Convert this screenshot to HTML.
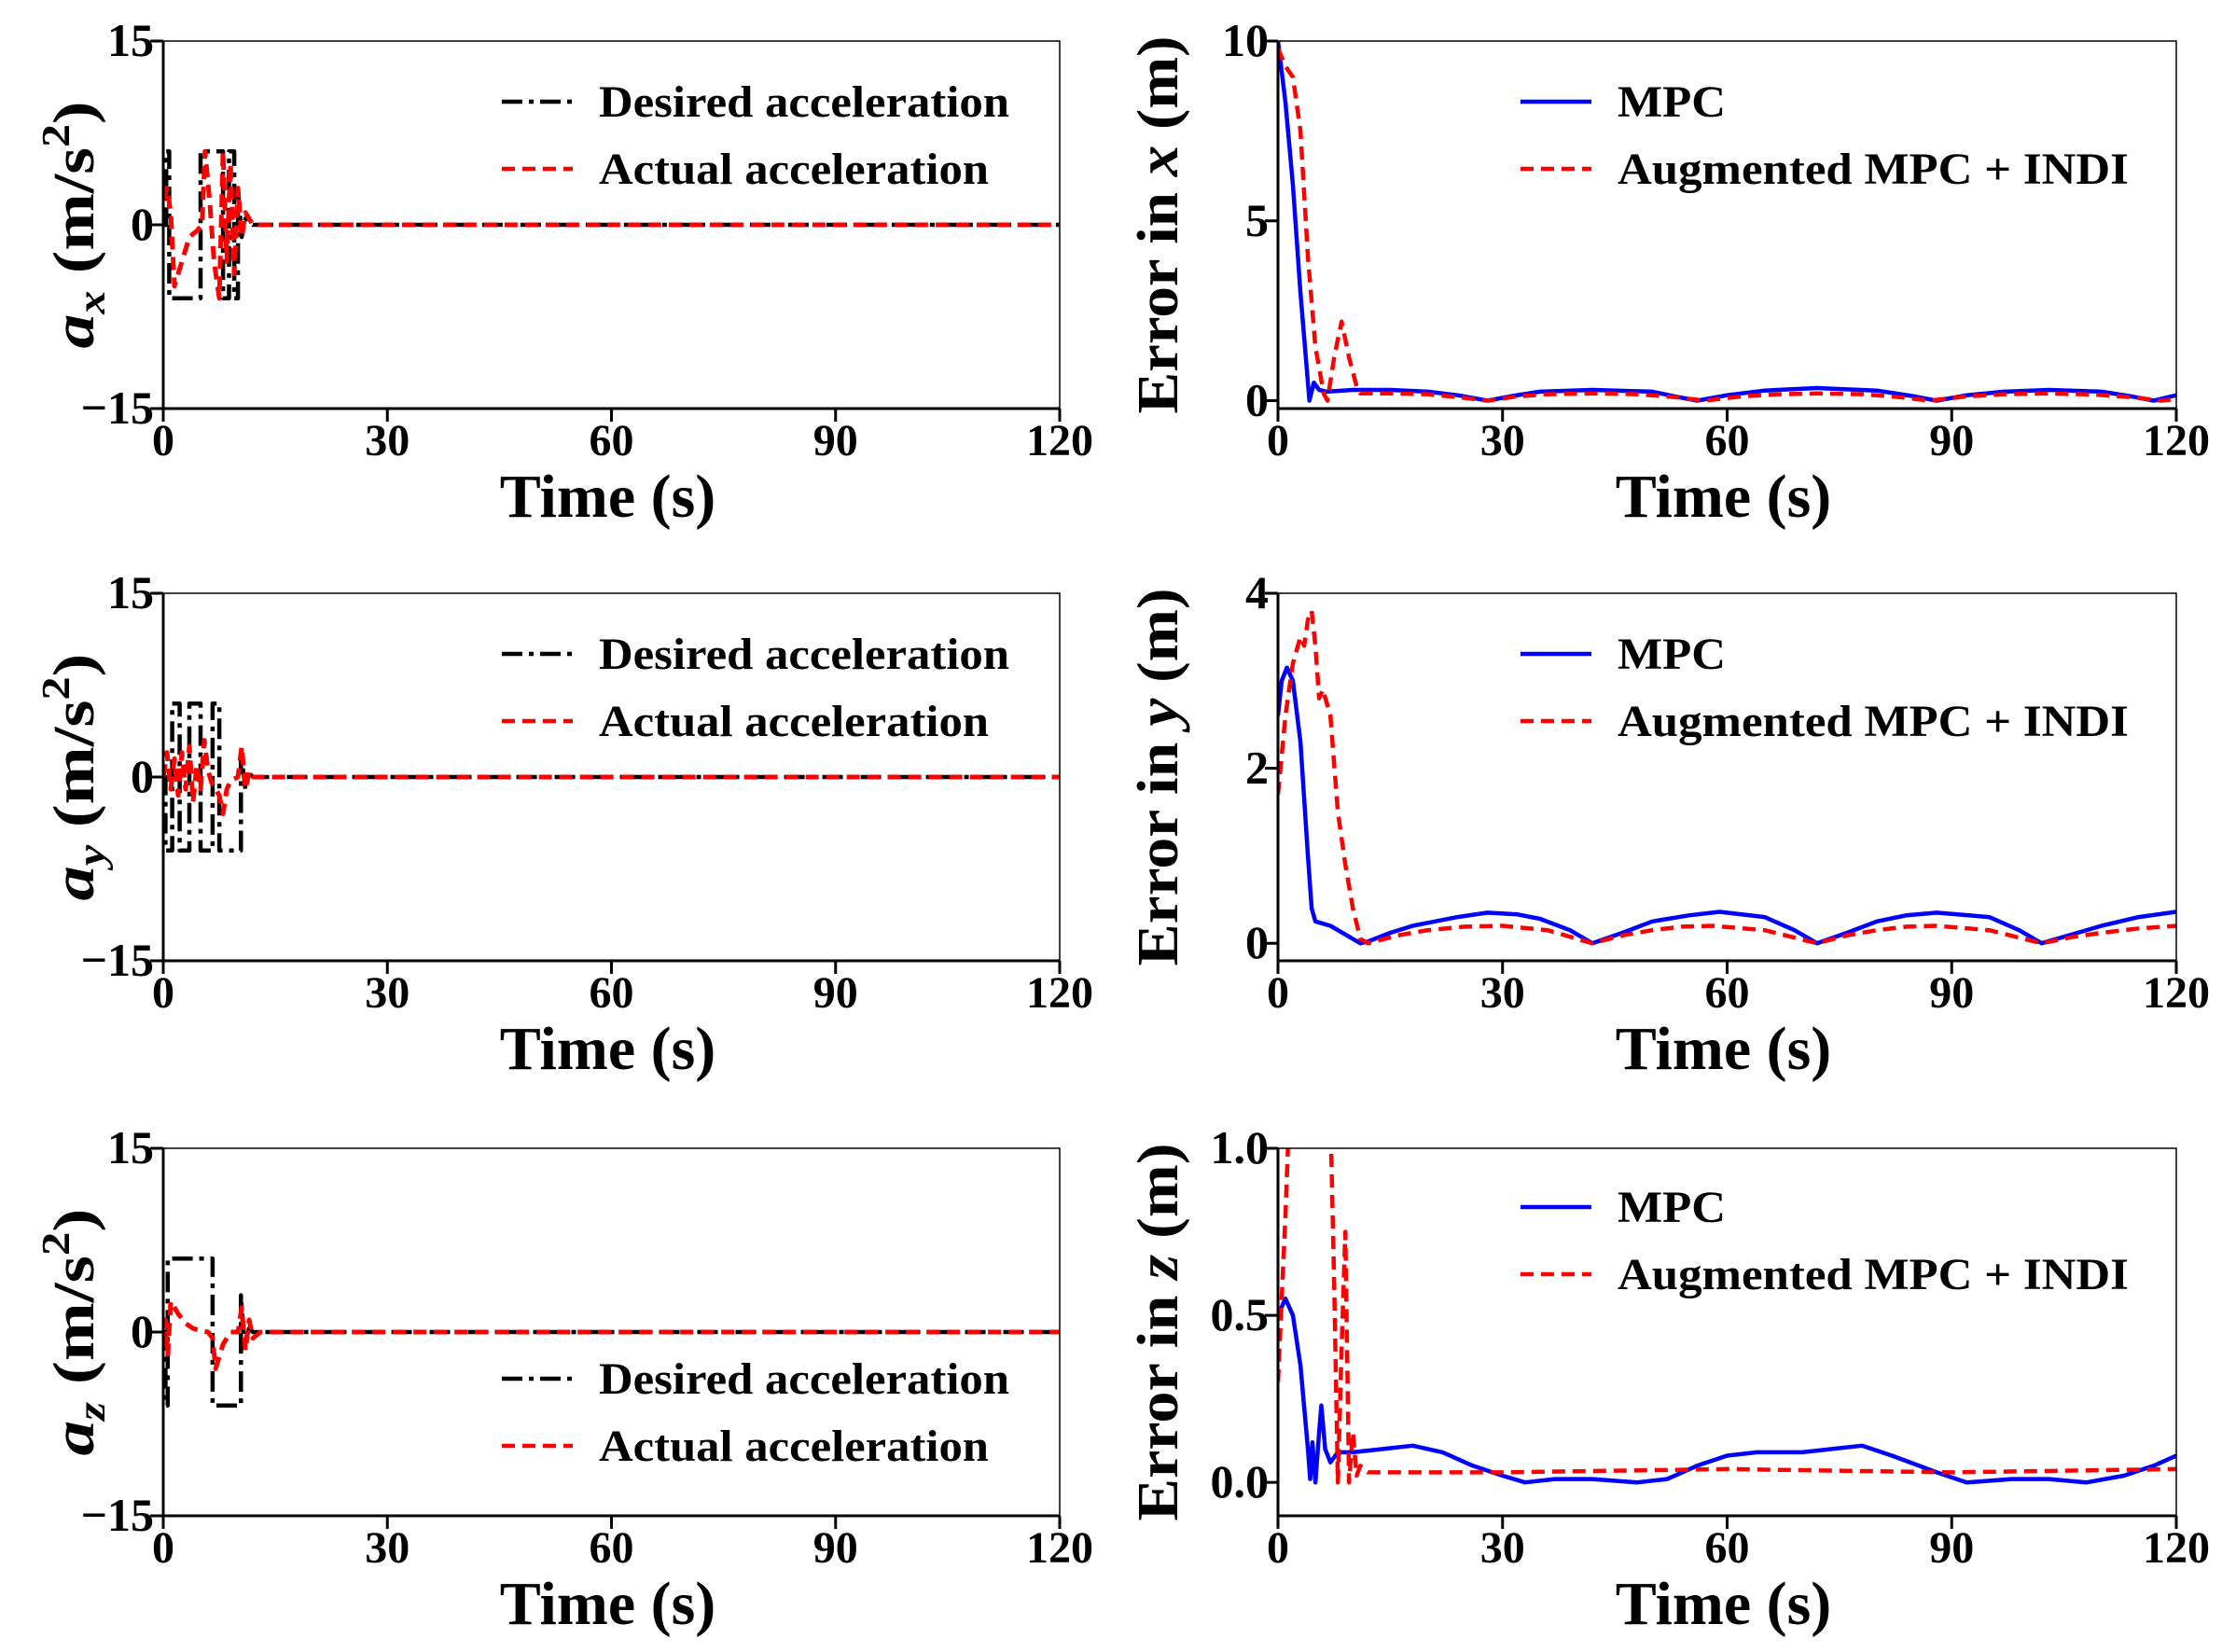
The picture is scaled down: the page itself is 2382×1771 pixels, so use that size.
<!DOCTYPE html>
<html><head><meta charset="utf-8"><style>
html,body{margin:0;padding:0;background:#fff;}
svg{display:block;}
text{font-family:"Liberation Serif",serif;font-weight:bold;fill:#000;}
</style></head><body>
<svg id="fig" width="2382" height="1771" viewBox="0 0 2382 1771" xmlns="http://www.w3.org/2000/svg"></svg>
<script>
// ---- data ----
const xTicks = [0, 30, 60, 90, 120];
const accTicks = [-15, 0, 15];
const exTicks = [0, 5, 10];
const eyTicks = [0, 2, 4];
const ezTicks = [0.0, 0.5, 1.0];
const ezTickLabels = ["0.0", "0.5", "1.0"];

const axDesT = [0,0.4,0.4,0.8,0.8,5,5,8,8,8.8,8.8,9.5,9.5,10,10,10.5,11,12,20,120];
const axDesV = [0,0,6,6,-6,-6,6,6,-6,-6,6,6,-6,-6,3,-1,0.5,0,0,0];
const axActT = [0,0.5,1,1.5,2.5,3.5,4.5,5.2,5.6,6.2,6.8,7.5,8,8.5,9,9.5,10,10.5,11,12,13,120];
const axActV = [2,3,1,-5,-3,-1,-0.5,0,6,2,-3,-6,6,-3,5,-4,3,-1,1,0,0,0];

const ayDesT = [0,0.3,0.3,1.2,1.2,2.2,2.2,3.5,3.5,5,5,6.6,6.6,7.5,7.5,10.4,10.4,11,11.5,12,120];
const ayDesV = [0,0,-6,-6,6,6,-6,-6,6,6,-6,-6,6,6,-6,-6,2,-1,0.3,0,0];
const ayActT = [0,0.5,1,1.5,2,2.5,3,3.5,4,4.5,5,5.5,6,6.5,7,7.5,8,8.5,9,10,10.5,11,11.5,12,13,120];
const ayActV = [0,2,-1,1.5,-1.5,2,-1,2.5,-2,1,-1,3,0.5,-0.5,-1,-1.5,-3,-1,-0.3,0,2.5,-1,0.5,0,0,0];

const azDesT = [0,0.3,0.3,0.6,0.6,6.6,6.6,10.4,10.4,10.8,11.5,12,120];
const azDesV = [0,0,-6,-6,6,6,-6,-6,3,-1,0.3,0,0];
const azActT = [0,0.3,0.6,1,1.5,2,3,4,5,6,6.6,7,7.5,8,8.5,9,10,10.5,11,11.5,12,13,120];
const azActV = [-1,1,-2,2.5,2,1.5,0.7,0.3,0.1,0,-0.5,-3,-2,-1,-0.5,0,0,2,-1.5,1,-0.5,0,0];

const exMpcT = [0,1,2,3,4.2,4.8,5.5,6.5,10,15,20,24,28,31,35,42,50,53,56,60,65,72,80,85,88,92,97,103,110,114,117,120];
const exMpcV = [10,8.3,6,3,0,0.5,0.3,0.25,0.3,0.3,0.25,0.15,0,0.12,0.25,0.3,0.25,0.12,0,0.15,0.28,0.35,0.28,0.12,0,0.15,0.25,0.3,0.25,0.12,0,0.15];
const exAugT = [0,1,2,3,4,5,6.1,6.6,7.5,8.5,9.5,10.5,11,15,20,24,28,32,36,42,48,53,57,62,67,72,78,83,87,92,97,103,109,114,118,120];
const exAugV = [9.8,9.3,9,7.5,4,1.5,0.2,0,1.2,2.2,1.2,0.4,0.2,0.2,0.18,0.1,0,0.12,0.18,0.2,0.18,0.1,0,0.12,0.18,0.2,0.18,0.1,0,0.12,0.18,0.2,0.17,0.1,0,0.05];

const eyMpcT = [0,0.5,1.2,2,3,4,4.5,5,7,11,12,15,18,24,28,32,35,39,42,46,50,55,59,65,69,72,76,80,84,88,95,99,102,106,110,115,120];
const eyMpcV = [2.6,3.0,3.15,3.0,2.3,1.0,0.4,0.25,0.2,0,0.02,0.12,0.2,0.3,0.35,0.33,0.28,0.15,0,0.12,0.25,0.32,0.36,0.3,0.15,0,0.12,0.25,0.32,0.35,0.3,0.15,0,0.1,0.2,0.3,0.36];
const eyAugT = [0,1,2,3,3.5,4,4.5,5,5.5,6,7,8,9,10,11,12,16,20,25,30,36,42,46,50,54,58,65,72,76,80,84,88,95,102,106,110,115,120];
const eyAugV = [1.7,2.6,3.2,3.5,3.4,3.7,3.8,3.4,2.8,2.9,2.6,1.5,0.9,0.4,0.05,0,0.09,0.15,0.19,0.2,0.15,0,0.09,0.15,0.19,0.2,0.15,0,0.09,0.15,0.19,0.2,0.15,0,0.07,0.12,0.17,0.2];

const ezMpcT = [0,1,2,3,4,4.3,4.6,5,5.5,5.8,6.3,7,8,10,14,18,22,26,30,33,37,42,48,52,56,60,64,70,78,82,88,92,98,103,108,113,117,120];
const ezMpcV = [0.5,0.55,0.5,0.35,0.1,0.01,0.12,0,0.15,0.23,0.1,0.06,0.09,0.09,0.1,0.11,0.09,0.05,0.02,0,0.01,0.01,0,0.01,0.05,0.08,0.09,0.09,0.11,0.08,0.03,0,0.01,0.01,0,0.02,0.05,0.08];
const ezAugT = [0,1,1.5,3,5,7,7.5,8,8.5,9,9.5,10,10.5,11,12,30,60,90,120];
const ezAugV = [0.3,0.8,1.1,2,2,1.1,0.6,0,0.4,0.75,0,0.15,0.02,0.05,0.03,0.03,0.04,0.03,0.04];

// ---- drawing ----
const NS = "http://www.w3.org/2000/svg";
const svg = document.getElementById("fig");
function mk(tag, attrs, parent){ const e=document.createElementNS(NS,tag); for(const k in attrs) e.setAttribute(k,attrs[k]); (parent||svg).appendChild(e); return e; }

const cols = [{x0:175,x1:1136},{x0:1370,x1:2333}];
const rows = [44,636,1231];
const PH = 394;

function makeScale(d0,d1,r0,r1){ return v => r0 + (v-d0)/(d1-d0)*(r1-r0); }

let clipId = 0;
function panel(name, col, row, yMin, yMax, yTicks, yTickLabels, series, legendPos, legendItems, ylabelParts, ylabelLen){
  const g = mk("g",{});
  
  
  const x0=cols[col].x0, x1=cols[col].x1, y0=rows[row], y1=rows[row]+PH;
  const sx = makeScale(0,120,x0,x1), sy = makeScale(yMin,yMax,y1,y0);
  const cid = "c"+(clipId++);
  const cp = mk("clipPath",{id:cid},g); mk("rect",{x:x0,y:y0,width:x1-x0,height:y1-y0},cp);
  series.forEach(s=>{
    let d=""; s.t.forEach((t,i)=>{ d += (i?"L":"M")+sx(t).toFixed(1)+" "+sy(s.v[i]).toFixed(1); });
    const p = mk("path",{d:d,fill:"none",stroke:s.color,"stroke-width":s.w,"stroke-dasharray":s.dash||"none","clip-path":"url(#"+cid+")","stroke-linejoin":"round"},g);
    
    
  });
  const fr = mk("rect",{x:x0,y:y0,width:x1-x0,height:y1-y0,fill:"none",stroke:"#000","stroke-width":1.5},g);
  
  
  mk("line",{x1:x0,y1:y0,x2:x0,y2:y1+1,stroke:"#000","stroke-width":3},g);
  mk("line",{x1:x0,y1:y1,x2:x1,y2:y1,stroke:"#000","stroke-width":3},g);
  xTicks.forEach(t=>{
    const x=sx(t);
    mk("line",{x1:x,y1:y1,x2:x,y2:y1+14,stroke:"#000","stroke-width":3},g);
    const tx = mk("text",{x:x,y:y1+50,"text-anchor":"middle","font-size":48},g);
    tx.textContent = t;
    
    
  });
  yTicks.forEach((v,i)=>{
    const y=sy(v);
    mk("line",{x1:x0-14,y1:y,x2:x0,y2:y,stroke:"#000","stroke-width":3},g);
    const tx = mk("text",{x:x0-10,y:y+16,"text-anchor":"end","font-size":50},g);
    tx.textContent = yTickLabels[i];
    
    
  });
  const xt = mk("text",{x:(x0+x1)/2-4,y:y1+116,"text-anchor":"middle","font-size":66},g);
  xt.textContent = "Time (s)";
  
  
  const yc = (y0+y1)/2;
  const lx = col===0 ? 80 : 1242;
  const yt = mk("text",{x:0,y:0,"text-anchor":"middle","font-size":62,textLength:ylabelLen,lengthAdjust:"spacingAndGlyphs",transform:"translate("+(lx+20)+","+yc+") rotate(-90)"},g);
  
  
  ylabelParts.forEach(p=>{
    const ts = mk("tspan",{},yt);
    if(p.italic) ts.setAttribute("font-style","italic");
    if(p.sub){ ts.setAttribute("font-size","42"); ts.setAttribute("dy","12"); }
    if(p.sup){ ts.setAttribute("font-size","42"); ts.setAttribute("dy","-26"); }
    if(p.dy) ts.setAttribute("dy",p.dy);
    ts.textContent = p.s;
  });
  legendItems.forEach((it,i)=>{
    const ly = legendPos.y + i*72;
    const ln = mk("line",{x1:legendPos.x,y1:ly,x2:legendPos.x+76,y2:ly,stroke:it.color,"stroke-width":4.5,"stroke-dasharray":it.dash||"none"},g);
    
    
    const lt = mk("text",{x:legendPos.x+104,y:ly+16,"font-size":48,textLength:it.len,lengthAdjust:"spacingAndGlyphs"},g);
    lt.textContent = it.label;
    
    
  });
}

const DD = "22 7 5 7", RD = "14 8";
const accLegend = [{label:"Desired acceleration",color:"#000",dash:DD,len:440},{label:"Actual acceleration",color:"#f00",dash:RD,len:418}];
const errLegend = [{label:"MPC",color:"#00f",len:116},{label:"Augmented MPC + INDI",color:"#f00",dash:RD,len:548}];
const accLbl = l => [{s:"a",italic:true},{s:l,italic:true,sub:true},{s:" (m/s",dy:"-12"},{s:"2",sup:true},{s:")",dy:"26"}];
const errLbl = l => [{s:"Error in "},{s:l,italic:true},{s:" (m)"}];

panel("ax-panel",0,0,-15,15,accTicks,["\u221215","0","15"],
  [{name:"desired-ax",t:axDesT,v:axDesV,color:"#000",w:4.5,dash:DD},{name:"actual-ax",t:axActT,v:axActV,color:"#f00",w:5,dash:RD}],
  {x:538,y:109},accLegend,accLbl("x"),265);
panel("ay-panel",0,1,-15,15,accTicks,["\u221215","0","15"],
  [{name:"desired-ay",t:ayDesT,v:ayDesV,color:"#000",w:4.5,dash:DD},{name:"actual-ay",t:ayActT,v:ayActV,color:"#f00",w:5,dash:RD}],
  {x:538,y:701},accLegend,accLbl("y"),265);
panel("az-panel",0,2,-15,15,accTicks,["\u221215","0","15"],
  [{name:"desired-az",t:azDesT,v:azDesV,color:"#000",w:4.5,dash:DD},{name:"actual-az",t:azActT,v:azActV,color:"#f00",w:5,dash:RD}],
  {x:538,y:1478},accLegend,accLbl("z"),265);
panel("ex-panel",1,0,-0.22,10,exTicks,["0","5","10"],
  [{name:"mpc-ex",t:exMpcT,v:exMpcV,color:"#00f",w:4.5},{name:"aug-ex",t:exAugT,v:exAugV,color:"#f00",w:4.5,dash:RD}],
  {x:1630,y:109},errLegend,errLbl("x"),405);
panel("ey-panel",1,1,-0.2,4,eyTicks,["0","2","4"],
  [{name:"mpc-ey",t:eyMpcT,v:eyMpcV,color:"#00f",w:4.5},{name:"aug-ey",t:eyAugT,v:eyAugV,color:"#f00",w:4.5,dash:RD}],
  {x:1630,y:701},errLegend,errLbl("y"),405);
panel("ez-panel",1,2,-0.1,1.0,ezTicks,ezTickLabels,
  [{name:"mpc-ez",t:ezMpcT,v:ezMpcV,color:"#00f",w:4.5},{name:"aug-ez",t:ezAugT,v:ezAugV,color:"#f00",w:4.5,dash:RD}],
  {x:1630,y:1294},errLegend,errLbl("z"),405);
</script>
</body></html>
